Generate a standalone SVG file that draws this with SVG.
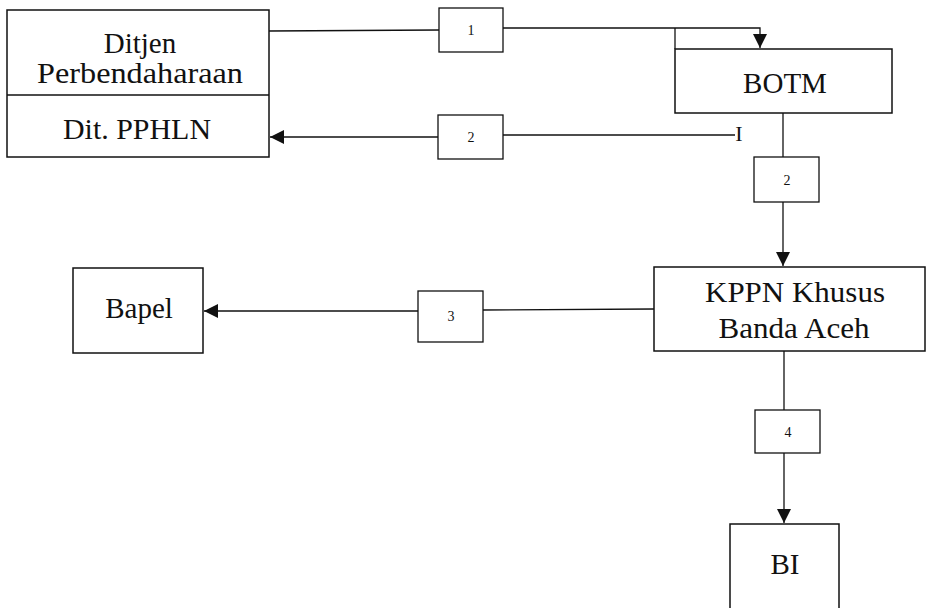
<svg xmlns="http://www.w3.org/2000/svg" width="926" height="608" viewBox="0 0 926 608">
<style>
.box{fill:#fff;stroke:#111;stroke-width:1.5}
.lbl{fill:#fff;stroke:#111;stroke-width:1.3}
.t{font-family:'Liberation Serif','DejaVu Serif',serif;font-size:29px;fill:#111;text-anchor:middle}
.s{font-family:'Liberation Serif','DejaVu Serif',serif;font-size:14px;fill:#111;text-anchor:middle}
.c{fill:none;stroke:#111;stroke-width:1.3}
</style>
<defs>
<marker id="ah" viewBox="0 0 14 14" refX="14" refY="7" markerWidth="14" markerHeight="14" markerUnits="userSpaceOnUse" orient="auto">
<path d="M0,0 L14,7 L0,14 Z" fill="#111"/>
</marker>
</defs>
<g id="connectors">
<path class="c" d="M269,31 L439,30"/>
<path class="c" d="M503,28 L760,28 L760,48" marker-end="url(#ah)"/>
<path class="c" d="M675,28 L675,49"/>
<path class="c" d="M735,135 L503,135"/>
<path class="c" d="M438,137 L270,137" marker-end="url(#ah)"/>
<path class="c" d="M783,113 L783,157"/>
<path class="c" d="M783,202 L783,266" marker-end="url(#ah)"/>
<path class="c" d="M654,309 L483,310"/>
<path class="c" d="M418,311 L204,311" marker-end="url(#ah)"/>
<path class="c" d="M784,351 L784,410"/>
<path class="c" d="M784,453 L784,523" marker-end="url(#ah)"/>
<text x="739" y="141" class="t" style="font-size:22px">I</text>
</g>
<g id="ditjen">
<rect class="box" x="7" y="10" width="262" height="147"/>
<line class="c" x1="7" y1="95" x2="269" y2="95" style="stroke-width:1.5"/>
<text class="t" x="140" y="53">Ditjen</text>
<text class="t" x="140" y="83" textLength="206" lengthAdjust="spacingAndGlyphs">Perbendaharaan</text>
<text class="t" x="137" y="139" textLength="148" lengthAdjust="spacingAndGlyphs">Dit. PPHLN</text>
</g>
<g id="botm">
<rect class="box" x="675" y="49" width="217" height="64"/>
<text class="t" x="785" y="93">BOTM</text>
</g>
<g id="kppn">
<rect class="box" x="654" y="267" width="271" height="84"/>
<text class="t" x="795" y="302" textLength="180" lengthAdjust="spacingAndGlyphs">KPPN Khusus</text>
<text class="t" x="794" y="338" textLength="151" lengthAdjust="spacingAndGlyphs">Banda Aceh</text>
</g>
<g id="bapel">
<rect class="box" x="73" y="268" width="130" height="85"/>
<text class="t" x="139" y="318">Bapel</text>
</g>
<g id="bi">
<rect class="box" x="730" y="524" width="109" height="90"/>
<text class="t" x="785" y="574">BI</text>
</g>
<g id="label1"><rect class="lbl" x="439" y="8" width="64" height="44"/><text class="s" x="471" y="35">1</text></g>
<g id="label2a"><rect class="lbl" x="438" y="115" width="65" height="44"/><text class="s" x="471" y="142">2</text></g>
<g id="label2b"><rect class="lbl" x="754" y="157" width="65" height="45"/><text class="s" x="787" y="185">2</text></g>
<g id="label3"><rect class="lbl" x="418" y="291" width="65" height="51"/><text class="s" x="451" y="321">3</text></g>
<g id="label4"><rect class="lbl" x="755" y="410" width="65" height="43"/><text class="s" x="788" y="437">4</text></g>
</svg>
